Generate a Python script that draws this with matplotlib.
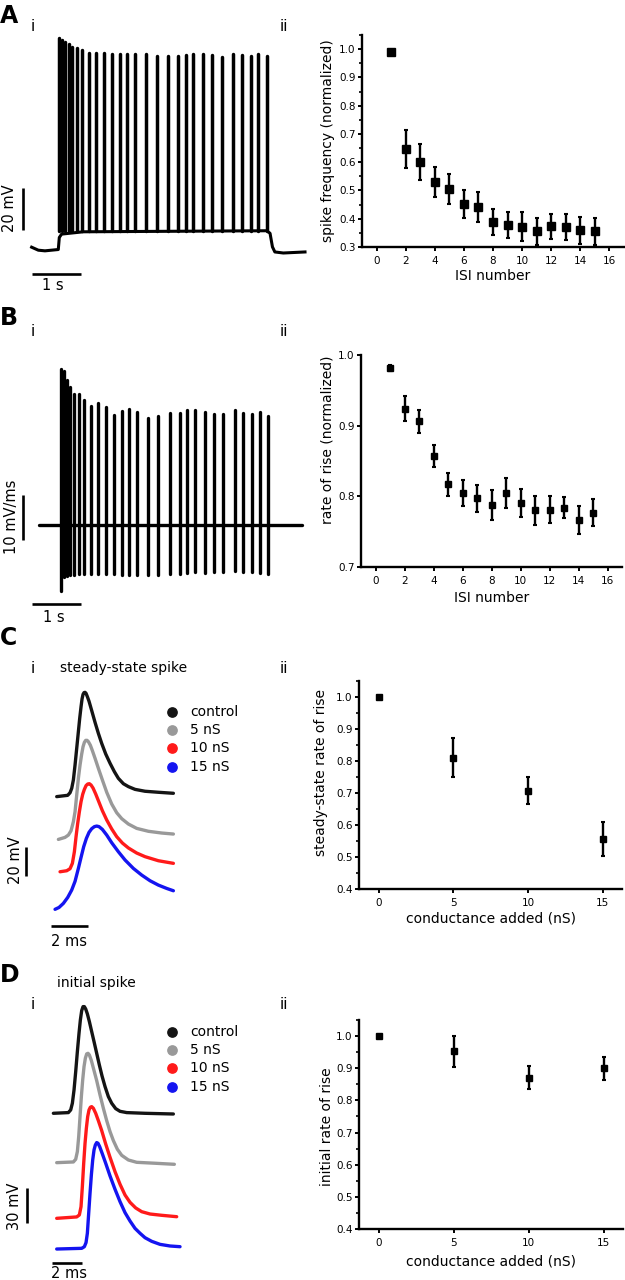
import numpy as np
import matplotlib
matplotlib.use("Agg")
import matplotlib.pyplot as plt
from matplotlib.ticker import MultipleLocator

W, H = 625, 1280
plt.rcParams['font.family'] = ['DejaVu Sans']

# ---------------- A i : spike train (mV, s) ----------------
spike_t = [0.01, 0.07, 0.135, 0.21, 0.28, 0.38, 0.49, 0.63, 0.78, 0.95, 1.11, 1.27, 1.42, 1.58,
           1.81, 2.03, 2.27, 2.47, 2.63, 2.79, 3.00, 3.18, 3.38, 3.62, 3.79, 3.98, 4.14, 4.31]
spike_peak = [100.3, 99.5, 98.7, 97.5, 96.3, 95.6, 94.8, 93.5, 93.5, 93.5, 92.9, 92.9, 92.9, 92.9,
              92.9, 92.0, 91.9, 91.9, 92.4, 92.9, 92.9, 92.4, 91.6, 92.9, 92.4, 91.9, 92.9, 91.9]
trough_mv = 8.4
base_t = [-0.556, -0.418, -0.28, -0.004, 0.017, 0.065, 0.513, 4.31, 4.38, 4.43, 4.48, 4.655, 5.104]
base_mv = [0.87, -0.56, -0.87, -0.24, 5.5, 7.1, 8.2, 8.7, 7.5, 1.0, -1.4, -1.9, -1.4]

# ---------------- B i : dV/dt (mV/ms) ----------------
rise_top = [34.7, 34.3, 32.2, 30.7, 29.1, 29.1, 27.8, 26.4, 27.0, 26.2, 24.4, 25.4, 25.8, 25.0,
            23.8, 24.1, 24.8, 24.8, 25.6, 25.6, 25.2, 24.6, 24.7, 25.6, 24.8, 24.7, 25.2, 24.1]
rise_bottom = [-14.6, -11.5, -11.4, -11.2, -11.0, -10.8, -10.8, -10.8, -10.8, -10.9, -10.9, -11.0,
               -11.0, -11.2, -11.2, -11.0, -10.9, -10.8, -10.6, -10.5, -10.7, -10.5, -10.5, -10.3,
               -10.5, -10.5, -10.6, -10.8]
dvdt_span = [-0.43, 5.0]

# ---------------- A ii / B ii ----------------
isi = list(range(1, 16))
freq_mean = [0.99, 0.646, 0.60, 0.53, 0.504, 0.452, 0.443, 0.39, 0.378, 0.372, 0.355, 0.373, 0.37, 0.359, 0.355]
freq_err = [0.0, 0.067, 0.064, 0.054, 0.053, 0.05, 0.053, 0.046, 0.047, 0.052, 0.049, 0.045, 0.047, 0.047, 0.049]
rise_mean = [0.982, 0.924, 0.906, 0.857, 0.817, 0.805, 0.797, 0.788, 0.805, 0.791, 0.780, 0.781, 0.784, 0.767, 0.777]
rise_err = [0.004, 0.0175, 0.016, 0.016, 0.016, 0.018, 0.019, 0.021, 0.021, 0.02, 0.021, 0.019, 0.015, 0.02, 0.019]

# ---------------- C ii / D ii ----------------
cond = [0, 5, 10, 15]
ss_rate = [1.0, 0.81, 0.707, 0.556]
ss_err = [0.0, 0.061, 0.042, 0.053]
init_rate = [1.0, 0.953, 0.871, 0.90]
init_err = [0.0, 0.048, 0.037, 0.036]

cond_labels = ['control', '5 nS', '10 nS', '15 nS']
cond_colors = ['#141414', '#999999', '#ff1a1a', '#1414f0']

# ---------------- C i : steady-state spike (ms, mV, stacked) ----------------
ss_ctrl_t = [0.000, 0.595, 0.721, 0.811, 0.901, 0.991, 1.081, 1.171, 1.243, 1.315, 1.369, 1.423, 1.477,
             1.532, 1.586, 1.658, 1.748, 1.892, 2.072, 2.252, 2.432, 2.649, 2.883, 3.117, 3.333, 3.604,
             3.874, 4.234, 4.775, 5.495, 6.306]
ss_ctrl_v = [71.3, 72.2, 74.0, 77.0, 82.8, 93.1, 104.6, 116.1, 125.3, 133.3, 138.6, 141.8, 143.0,
             143.2, 142.5, 140.2, 137.0, 130.6, 122.5, 114.9, 108.0, 100.7, 94.3, 88.5, 83.9, 80.2,
             78.2, 76.3, 75.0, 74.3, 73.6]
ss_5_t = [0.090, 0.450, 0.631, 0.775, 0.901, 0.991, 1.081, 1.171, 1.261, 1.351, 1.423, 1.495, 1.568,
          1.640, 1.712, 1.820, 1.928, 2.072, 2.252, 2.468, 2.703, 2.973, 3.243, 3.514, 3.874, 4.324,
          4.955, 5.676, 6.306]
ss_5_v = [41.8, 43.2, 44.8, 47.8, 54.0, 60.9, 72.4, 83.9, 93.1, 100.7, 105.7, 108.7, 110.1,
          110.1, 109.2, 106.7, 103.0, 97.7, 90.8, 82.8, 74.3, 66.2, 60.2, 56.1, 52.4, 49.4,
          47.4, 46.2, 45.5]
ss_10_t = [0.180, 0.541, 0.721, 0.847, 0.955, 1.045, 1.135, 1.225, 1.315, 1.405, 1.495, 1.586, 1.676,
           1.766, 1.856, 1.964, 2.108, 2.252, 2.468, 2.703, 2.973, 3.243, 3.550, 3.874, 4.324, 4.775,
           5.495, 6.306]
ss_10_v = [19.5, 20.2, 21.6, 25.3, 33.3, 43.7, 52.9, 60.9, 67.8, 72.9, 76.3, 78.9, 80.0,
           80.2, 79.3, 77.2, 73.1, 68.5, 61.6, 55.2, 49.0, 43.7, 39.3, 35.9, 32.4, 29.9,
           27.1, 25.3]
ss_15_t = [-0.090, 0.126, 0.360, 0.595, 0.811, 0.991, 1.171, 1.315, 1.459, 1.604, 1.748, 1.892, 2.036,
           2.162, 2.288, 2.468, 2.703, 2.973, 3.333, 3.694, 4.144, 4.595, 5.045, 5.495, 5.946, 6.306]
ss_15_v = [-6.4, -5.1, -2.3, 1.8, 6.9, 12.9, 21.8, 29.4, 36.8, 42.5, 46.7, 49.2, 50.6,
           51.0, 50.6, 48.7, 44.8, 39.5, 33.3, 27.6, 21.8, 17.2, 13.3, 10.3, 8.0, 6.4]

# ---------------- D i : initial spike (ms, mV, stacked) ----------------
in_ctrl_t = [0.109, 1.089, 1.242, 1.351, 1.460, 1.569, 1.678, 1.786, 1.874, 1.961, 2.048, 2.135, 2.222,
             2.331, 2.462, 2.614, 2.767, 2.941, 3.115, 3.290, 3.486, 3.704, 3.922, 4.183, 4.466, 4.902,
             6.100, 7.952]
in_ctrl_v = [125.7, 126.3, 128.6, 134.3, 145.7, 161.4, 178.6, 194.3, 205.7, 213.7, 217.1, 217.1, 215.1,
             210.9, 204.3, 195.7, 187.1, 177.1, 167.1, 157.7, 148.6, 140.0, 134.3, 129.7, 127.4, 126.3,
             125.7, 125.1]
in_5_t = [0.327, 1.416, 1.569, 1.678, 1.765, 1.852, 1.939, 2.026, 2.113, 2.200, 2.288, 2.375, 2.462,
          2.593, 2.745, 2.941, 3.159, 3.377, 3.595, 3.813, 4.031, 4.292, 4.575, 5.011, 5.556, 6.754, 8.017]
in_5_v = [83.4, 84.0, 86.3, 92.9, 105.7, 122.9, 140.0, 154.3, 165.7, 172.9, 176.6, 177.1, 175.7,
          170.9, 163.4, 153.7, 141.4, 130.0, 119.4, 110.0, 102.3, 94.9, 89.7, 85.7, 83.7, 82.9, 82.0]
in_10_t = [0.327, 1.634, 1.808, 1.917, 2.004, 2.092, 2.179, 2.266, 2.353, 2.440, 2.527, 2.614, 2.723,
           2.876, 3.050, 3.268, 3.529, 3.813, 4.139, 4.466, 4.793, 5.120, 5.490, 5.882, 6.427, 7.190, 8.170]
in_10_v = [35.7, 36.9, 38.6, 45.7, 62.9, 82.9, 100.0, 112.9, 122.9, 128.6, 130.9, 131.4, 130.0,
           125.7, 119.4, 110.9, 99.4, 88.0, 75.7, 64.9, 55.7, 49.4, 44.6, 41.4, 39.4, 38.3, 37.1]
in_15_t = [0.327, 1.961, 2.135, 2.244, 2.331, 2.418, 2.505, 2.593, 2.680, 2.767, 2.854, 2.941, 3.028,
           3.137, 3.312, 3.529, 3.813, 4.139, 4.466, 4.793, 5.120, 5.447, 5.773, 6.100, 6.536, 7.081,
           7.734, 8.388]
in_15_v = [9.4, 10.0, 11.4, 14.9, 22.9, 40.0, 57.1, 72.9, 85.7, 94.3, 98.6, 100.6, 100.0,
           97.1, 90.9, 82.9, 72.0, 60.6, 50.0, 40.6, 33.4, 27.1, 22.9, 19.1, 16.0, 13.4,
           12.0, 11.4]


def px_axes(fig, left, top, right, bottom):
    return fig.add_axes([left / W, 1 - bottom / H, (right - left) / W, (bottom - top) / H])


def fig_text(fig, x, y, s, **kw):
    fig.text(x / W, 1 - y / H, s, **kw)


def scale_bar(ax, xs, ys):
    ax.plot(xs, ys, color='black', lw=1.9, solid_capstyle='butt', clip_on=False)


def style_stat_axes(ax, xlim, ylim, xticks, yticks, yminor=None):
    ax.set_xlim(*xlim)
    ax.set_ylim(*ylim)
    ax.set_xticks(xticks)
    ax.set_yticks(yticks)
    ax.set_yticklabels([f"{v:.1f}" for v in yticks])
    if yminor:
        ax.yaxis.set_minor_locator(MultipleLocator(yminor))
    for s in ['top', 'right']:
        ax.spines[s].set_visible(False)
    for s in ['left', 'bottom']:
        ax.spines[s].set_linewidth(1.7)
    ax.tick_params(axis='both', which='major', direction='out', length=3, width=1.4, labelsize=7.5)
    ax.tick_params(axis='both', which='minor', direction='out', length=2, width=1.2)
    ax.tick_params(axis='y', pad=1.5)
    ax.tick_params(axis='x', pad=3.5)


def stat_points(ax, x, y, err, ms=5):
    ax.errorbar(x, y, yerr=err, fmt='s', color='black', ms=ms, elinewidth=1.7,
                capsize=1.7, capthick=1.5, clip_on=False)


def spike_panel(ax, traces, leg_x, leg_y0, leg_dy, txt_dx):
    for (t, v), c in zip(traces, cond_colors):
        ax.plot(t, v, color=c, lw=2.4, solid_joinstyle='round', solid_capstyle='round')
    for i, (lab, c) in enumerate(zip(cond_labels, cond_colors)):
        yv = leg_y0 - i * leg_dy
        ax.plot([leg_x], [yv], 'o', color=c, ms=6.7)
        ax.text(leg_x + txt_dx, yv, lab, fontsize=10, va='center', ha='left')


fig = plt.figure(figsize=(W / 100, H / 100), dpi=100)

# panel letters and sub-labels
for letter, yb in [('A', 23), ('B', 325), ('C', 645), ('D', 982)]:
    fig_text(fig, 0, yb, letter, fontsize=17, fontweight='bold', va='baseline', ha='left')
for yb in [30.7, 336, 672.7, 1009.3]:
    fig_text(fig, 32.5, yb, 'i', fontsize=11, va='baseline', ha='center')
    fig_text(fig, 283.5, yb, 'ii', fontsize=11, va='baseline', ha='center')
fig_text(fig, 60, 671.7, 'steady-state spike', fontsize=10, va='baseline', ha='left')
fig_text(fig, 57, 986.7, 'initial spike', fontsize=10, va='baseline', ha='left')

# ---- A i
ax = px_axes(fig, 0, 30, 315, 295)
ax.set_xlim(-1.211, 5.311)
ax.set_ylim(-21.9, 104.3)
ax.axis('off')
ax.plot(base_t, base_mv, color='black', lw=2.2, solid_joinstyle='round')
ax.vlines(spike_t, trough_mv, spike_peak, color='black', lw=2.5, capstyle='round')
scale_bar(ax, [-0.542, 0.458], [-11.9, -11.9])
scale_bar(ax, [-0.729, -0.729], [9.0, 29.0])
ax.text(-0.108, -17.6, '1 s', fontsize=10.5, ha='center', va='center')
ax.text(-1.004, 19.4, '20 mV', fontsize=10.5, ha='center', va='center', rotation=90)

# ---- B i
ax = px_axes(fig, 0, 335, 315, 620)
ax.set_xlim(-1.246, 5.275)
ax.set_ylim(-21.1, 42.2)
ax.axis('off')
ax.plot(dvdt_span, [0, 0], color='black', lw=2.4, solid_capstyle='round')
ax.vlines(spike_t, rise_bottom, rise_top, color='black', lw=2.4, capstyle='round')
scale_bar(ax, [-0.578, 0.424], [-17.6, -17.6])
scale_bar(ax, [-0.764, -0.764], [-3.33, 6.67])
ax.text(-0.139, -20.6, '1 s', fontsize=10.5, ha='center', va='center')
ax.text(-1.004, 1.85, '10 mV/ms', fontsize=10.5, ha='center', va='center', rotation=90)

# ---- C i
ax = px_axes(fig, 0, 660, 315, 945)
ax.set_xlim(-3.065, 13.96)
ax.set_ylim(-31.0, 165.5)
ax.axis('off')
spike_panel(ax, [(ss_ctrl_t, ss_ctrl_v), (ss_5_t, ss_5_v), (ss_10_t, ss_10_v), (ss_15_t, ss_15_v)],
            6.25, 129.9, 12.65, 0.95)
scale_bar(ax, [-0.324, 1.676], [-17.9, -17.9])
scale_bar(ax, [-1.68, -1.68], [16.8, 36.8])
ax.text(0.68, -28.3, '2 ms', fontsize=10.5, ha='center', va='center')
ax.text(-2.25, 27.6, '20 mV', fontsize=10.5, ha='center', va='center', rotation=90)

# ---- D i
ax = px_axes(fig, 0, 975, 315, 1280)
ax.set_xlim(-3.379, 17.21)
ax.set_ylim(-17.14, 244.2)
ax.axis('off')
spike_panel(ax, [(in_ctrl_t, in_ctrl_v), (in_5_t, in_5_v), (in_10_t, in_10_v), (in_15_t, in_15_v)],
            7.88, 195.6, 15.7, 1.16)
scale_bar(ax, [0.0, 2.0], [-2.3, -2.3])
scale_bar(ax, [-1.63, -1.63], [31.4, 61.4])
ax.text(1.15, -11.4, '2 ms', fontsize=10.5, ha='center', va='center')
ax.text(-2.40, 45.7, '30 mV', fontsize=10.5, ha='center', va='center', rotation=90)

# ---- A ii
ax = px_axes(fig, 362, 35, 624, 247)
style_stat_axes(ax, (-1, 17), (0.3, 1.05), range(0, 17, 2), np.arange(0.3, 1.01, 0.1), 0.05)
stat_points(ax, isi, freq_mean, freq_err, ms=5.2)
ax.set_ylabel('spike frequency (normalized)', fontsize=10)
ax.set_xlabel('ISI number', fontsize=10)
ax.yaxis.set_label_coords(-0.103, 0.5)
ax.xaxis.set_label_coords(0.5, -0.106)

# ---- B ii
ax = px_axes(fig, 361, 355, 622, 567)
style_stat_axes(ax, (-1, 17), (0.7, 1.0), range(0, 17, 2), np.arange(0.7, 1.01, 0.1))
stat_points(ax, isi, rise_mean, rise_err, ms=4.8)
ax.set_ylabel('rate of rise (normalized)', fontsize=10)
ax.set_xlabel('ISI number', fontsize=10)
ax.yaxis.set_label_coords(-0.103, 0.6)
ax.xaxis.set_label_coords(0.5, -0.113)

# ---- C ii
ax = px_axes(fig, 359, 681, 622, 889)
style_stat_axes(ax, (-1.32, 16.3), (0.4, 1.05), [0, 5, 10, 15], np.arange(0.4, 1.01, 0.1), 0.05)
stat_points(ax, cond, ss_rate, ss_err, ms=4.8)
ax.set_ylabel('steady-state rate of rise', fontsize=10)
ax.set_xlabel('conductance added (nS)', fontsize=10)
ax.yaxis.set_label_coords(-0.118, 0.56)
ax.xaxis.set_label_coords(0.5, -0.11)

# ---- D ii
ax = px_axes(fig, 359, 1020, 623, 1229)
style_stat_axes(ax, (-1.32, 16.3), (0.4, 1.05), [0, 5, 10, 15], np.arange(0.4, 1.01, 0.1), 0.05)
stat_points(ax, cond, init_rate, init_err, ms=4.8)
ax.set_ylabel('initial rate of rise', fontsize=10)
ax.set_xlabel('conductance added (nS)', fontsize=10)
ax.yaxis.set_label_coords(-0.095, 0.49)
ax.xaxis.set_label_coords(0.5, -0.12)

fig.savefig('out.png', dpi=100)
